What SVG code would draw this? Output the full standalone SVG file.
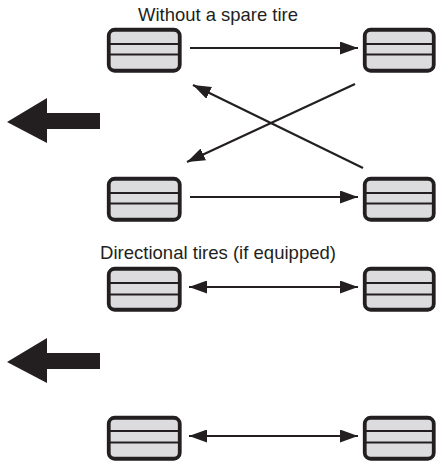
<svg xmlns="http://www.w3.org/2000/svg" width="436" height="462" viewBox="0 0 436 462">
<style>
.tire rect{fill:#dcdcde;stroke:#231f20;stroke-width:3.8}
.tire line{stroke:#231f20;stroke-width:2.2}
.conn{stroke:#231f20;stroke-width:2.2;fill:none}
.big{fill:#231f20}
text{font-family:"Liberation Sans",Arial,sans-serif;font-size:19px;fill:#231f20}
</style>
<defs>
<marker id="ah" viewBox="0 0 18 13" refX="18" refY="6.5" markerWidth="18" markerHeight="13" markerUnits="userSpaceOnUse" orient="auto-start-reverse">
<path d="M0,0 L18,6.5 L0,13 Z" fill="#231f20"/>
</marker>
</defs>
<rect width="436" height="462" fill="#ffffff"/>
<text x="218" y="21" text-anchor="middle" textLength="160" lengthAdjust="spacingAndGlyphs">Without a spare tire</text>
<text x="218" y="259" text-anchor="middle" textLength="236" lengthAdjust="spacingAndGlyphs">Directional tires (if equipped)</text>
<g id="tire-r1-left" class="tire"><rect x="108.75" y="29.75" width="71" height="41" rx="6"/><line x1="110" y1="44" x2="179" y2="44"/><line x1="110" y1="54.5" x2="179" y2="54.5"/></g>
<g id="tire-r1-right" class="tire"><rect x="364.75" y="29.75" width="69" height="41" rx="6"/><line x1="366" y1="44" x2="433" y2="44"/><line x1="366" y1="54.5" x2="433" y2="54.5"/></g>
<g id="tire-r2-left" class="tire"><rect x="108.75" y="178.75" width="71" height="41" rx="6"/><line x1="110" y1="193" x2="179" y2="193"/><line x1="110" y1="203.5" x2="179" y2="203.5"/></g>
<g id="tire-r2-right" class="tire"><rect x="364.75" y="178.75" width="69" height="41" rx="6"/><line x1="366" y1="193" x2="433" y2="193"/><line x1="366" y1="203.5" x2="433" y2="203.5"/></g>
<g id="tire-r3-left" class="tire"><rect x="108.75" y="268.75" width="71" height="41" rx="6"/><line x1="110" y1="283" x2="179" y2="283"/><line x1="110" y1="294.5" x2="179" y2="294.5"/></g>
<g id="tire-r3-right" class="tire"><rect x="364.75" y="268.75" width="69" height="41" rx="6"/><line x1="366" y1="283" x2="433" y2="283"/><line x1="366" y1="294.5" x2="433" y2="294.5"/></g>
<g id="tire-r4-left" class="tire"><rect x="108.75" y="417.75" width="71" height="41" rx="6"/><line x1="110" y1="431" x2="179" y2="431"/><line x1="110" y1="442.5" x2="179" y2="442.5"/></g>
<g id="tire-r4-right" class="tire"><rect x="364.75" y="417.75" width="69" height="41" rx="6"/><line x1="366" y1="431" x2="433" y2="431"/><line x1="366" y1="442.5" x2="433" y2="442.5"/></g>
<g id="direction-arrows">
<polygon class="big" points="7,122 47,98 47,113 100,113 100,129 47,129 47,143"/>
<polygon class="big" points="7,362 47,338 47,353 100,353 100,369 47,369 47,383"/>
</g>
<g id="connectors">
<line class="conn" x1="190" y1="48" x2="358" y2="48" marker-end="url(#ah)"/>
<line class="conn" x1="190" y1="197" x2="358" y2="197" marker-end="url(#ah)"/>
<line class="conn" x1="355" y1="84" x2="187" y2="162" marker-end="url(#ah)"/>
<line class="conn" x1="363" y1="168" x2="193" y2="85" marker-end="url(#ah)"/>
<line class="conn" x1="189" y1="287" x2="358" y2="287" marker-start="url(#ah)" marker-end="url(#ah)"/>
<line class="conn" x1="189" y1="436" x2="358" y2="436" marker-start="url(#ah)" marker-end="url(#ah)"/>
</g>
</svg>
